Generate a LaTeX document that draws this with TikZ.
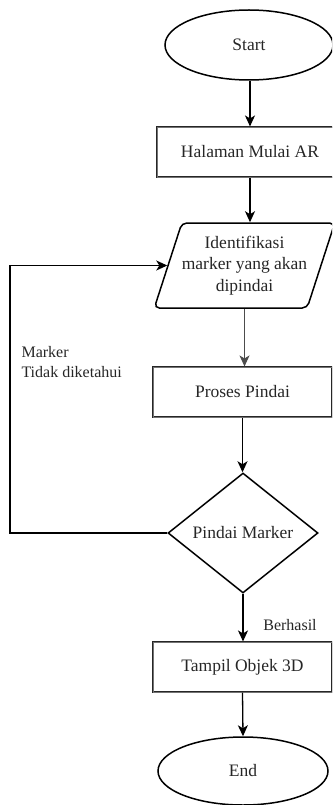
\documentclass[tikz,border=0pt]{standalone}
\usepackage{fontspec}
\setmainfont{Liberation Serif}
\usetikzlibrary{shapes.geometric,arrows.meta}
\begin{document}
\begin{tikzpicture}[x=1pt,y=-1pt,
  every node/.style={text=black!85},
  nodefont/.style={font=\fontsize{17.5}{21.5}\selectfont},
  labfont/.style={font=\fontsize{16}{20}\selectfont},
  terminal/.style={ellipse,draw=black,line width=1.5pt,minimum width=168pt,minimum height=70pt,inner sep=0pt,nodefont},
  procbox/.style={rectangle,draw=black!85,double=black!55,double distance=0.6pt,line width=1.1pt,inner sep=0pt,nodefont},
  iobox/.style={trapezium,trapezium left angle=65,trapezium right angle=115,trapezium stretches body,draw=black,line width=1.5pt,rounded corners=5pt,minimum height=85pt,minimum width=178pt,inner sep=0pt,align=center,nodefont},
  decision/.style={diamond,draw=black,line width=1.5pt,minimum width=150pt,minimum height=120pt,aspect=1.25,inner sep=0pt,nodefont},
  flow/.style={draw=black,line width=1.3pt,-{Stealth[length=11pt,width=10pt,inset=3pt]}}
]
\useasboundingbox (0,0) rectangle (332,805);
\clip (0,0) rectangle (332,805);

\node[terminal] (start) at (249,45) {Start};
\node[procbox,minimum width=186pt,minimum height=50pt] (hal) at (250,152) {Halaman Mulai AR};
\node[iobox] (para) at (244.5,265.5) {Identifikasi\\marker yang akan\\dipindai};
\node[procbox,minimum width=179pt,minimum height=50pt] (pros) at (242.5,392) {Proses Pindai};
\node[decision] (diam) at (243,533) {Pindai Marker};
\node[procbox,minimum width=179pt,minimum height=50pt] (tamp) at (242.5,667) {Tampil Objek 3D};
\node[terminal,minimum width=170pt,minimum height=68pt] (end) at (243,771) {End};

\node[labfont,anchor=west,align=left] (lbl1) at (18,362) {Marker\\Tidak diketahui};
\node[labfont] (lbl2) at (290,625) {Berhasil};

\coordinate (c1) at (10,533);

\draw[flow] (start.south -| hal.north) -- (hal.north);
\draw[flow] (hal.south) -- (hal.south |- para.north);
\draw[flow,line width=1pt,draw=black!70] (para.south) -- (para.south |- pros.north);
\draw[flow] (pros.south) -- (pros.south |- diam.north);
\draw[flow] (diam.west) -- (c1) |- (para);
\draw[flow] (diam.south) -- (diam.south |- tamp.north);
\draw[flow] (tamp.south) -- (end.north);
\end{tikzpicture}
\end{document}
